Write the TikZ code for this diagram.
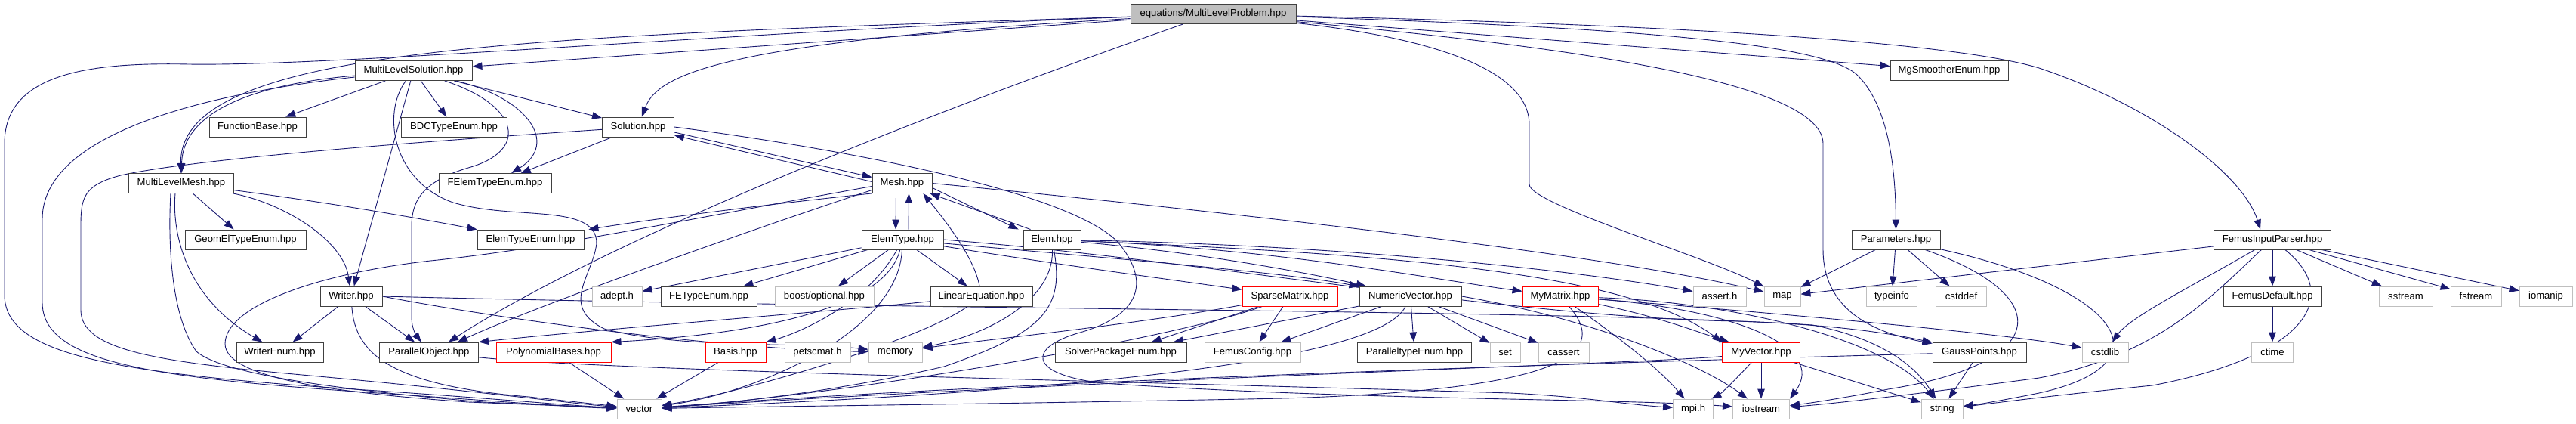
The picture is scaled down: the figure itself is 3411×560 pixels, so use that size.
\documentclass[tikz,border=0pt]{standalone}
\usepackage{fontspec}
\setmainfont{Liberation Sans}
\usetikzlibrary{arrows.meta,calc}
\definecolor{edgec}{HTML}{191970}
\definecolor{boxg}{HTML}{BFBFBF}
\definecolor{boxk}{HTML}{404040}
\pgfdeclarelayer{edges}
\pgfsetlayers{edges,main}
\tikzset{
 base/.style={rectangle, line width=0.9pt, minimum height=26pt, inner sep=0pt, font=\fontsize{13.1pt}{15pt}\selectfont, text=black, fill=white},
 kb/.style={base, draw=boxk},
 gb/.style={base, draw=boxg},
 rb/.style={base, draw=red},
 e/.style={draw=edgec, line width=0.9pt, -{Triangle[length=13pt,width=9.5pt]}},
}
\begin{document}
\begin{tikzpicture}[x=1pt,y=-1pt]
\useasboundingbox (0,0) rectangle (3411,560);
% row 0
\node[kb, fill=boxg, minimum width=219pt] (mlp) at (1606.5,18.5) {equations/MultiLevelProblem.hpp};
% row 1
\node[kb, minimum width=155pt] (mls) at (547.5,93.5) {MultiLevelSolution.hpp};
\node[kb, minimum width=156pt] (mgs) at (2581,93.5) {MgSmootherEnum.hpp};
% row 2
\node[kb, minimum width=128pt] (fb) at (341,168) {FunctionBase.hpp};
\node[kb, minimum width=140pt] (bdc) at (601,168) {BDCTypeEnum.hpp};
\node[kb, minimum width=95pt] (sol) at (845,168) {Solution.hpp};
% row 3
\node[kb, minimum width=139pt] (mlm) at (240,242.5) {MultiLevelMesh.hpp};
\node[kb, minimum width=149pt] (fet) at (655.5,242.5) {FElemTypeEnum.hpp};
\node[kb, minimum width=79pt] (mesh) at (1194.5,242.5) {Mesh.hpp};
% row 4
\node[kb, minimum width=160pt] (geom) at (325,317) {GeomElTypeEnum.hpp};
\node[kb, minimum width=141pt] (ete) at (702.5,317) {ElemTypeEnum.hpp};
\node[kb, minimum width=108pt] (etype) at (1195,317) {ElemType.hpp};
\node[kb, minimum width=76pt] (elem) at (1393,317) {Elem.hpp};
\node[kb, minimum width=117pt] (par) at (2510.5,317) {Parameters.hpp};
\node[kb, minimum width=155pt] (fip) at (3009,317) {FemusInputParser.hpp};
% row 5
\node[kb, minimum width=82pt] (wr) at (465,392) {Writer.hpp};
\node[gb, minimum width=66pt] (adept) at (817,392) {adept.h};
\node[kb, minimum width=127pt] (fety) at (938.5,392) {FETypeEnum.hpp};
\node[gb, minimum width=131pt] (boost) at (1091.5,392) {boost/optional.hpp};
\node[kb, minimum width=135pt] (leq) at (1299.5,392) {LinearEquation.hpp};
\node[rb, minimum width=126pt] (spm) at (1708,392) {SparseMatrix.hpp};
\node[kb, minimum width=135pt] (nv) at (1867.5,392) {NumericVector.hpp};
\node[rb, minimum width=100pt] (mym) at (2066,392) {MyMatrix.hpp};
\node[gb, minimum width=70pt] (assert) at (2277,392) {assert.h};
\node[gb, minimum width=48pt] (map) at (2360,392) {map};
\node[gb, minimum width=67pt] (tinfo) at (2505,392) {typeinfo};
\node[gb, minimum width=67pt] (cstddef) at (2597,392) {cstddef};
\node[kb, minimum width=130pt] (fdef) at (3009,392) {FemusDefault.hpp};
\node[gb, minimum width=71pt] (sstream) at (3185.5,392) {sstream};
\node[gb, minimum width=67pt] (fstream) at (3278.5,392) {fstream};
\node[gb, minimum width=70pt] (iomanip) at (3371,392) {iomanip};
% row 6
\node[kb, minimum width=115pt] (wenum) at (370.5,466) {WriterEnum.hpp};
\node[kb, minimum width=131pt] (po) at (568,466) {ParallelObject.hpp};
\node[rb, minimum width=152pt] (poly) at (733,466) {PolynomialBases.hpp};
\node[rb, minimum width=80pt] (basis) at (974,466) {Basis.hpp};
\node[gb, minimum width=87pt] (petsc) at (1082.5,466) {petscmat.h};
\node[gb, minimum width=71pt] (memory) at (1185.5,466) {memory};
\node[kb, minimum width=174pt] (spe) at (1484,466) {SolverPackageEnum.hpp};
\node[gb, minimum width=127pt] (fconf) at (1658.5,466) {FemusConfig.hpp};
\node[kb, minimum width=151pt] (pte) at (1873,466) {ParalleltypeEnum.hpp};
\node[gb, minimum width=40pt] (set) at (1993,466) {set};
\node[gb, minimum width=67pt] (cassert) at (2070.5,466) {cassert};
\node[rb, minimum width=103pt] (myv) at (2332,466) {MyVector.hpp};
\node[kb, minimum width=124pt] (gauss) at (2621,466) {GaussPoints.hpp};
\node[gb, minimum width=61pt] (cstdlib) at (2787.5,466) {cstdlib};
\node[gb, minimum width=55pt] (ctime) at (3009,466) {ctime};
% row 7
\node[gb, minimum width=59pt] (vector) at (846.5,541) {vector};
\node[gb, minimum width=53pt] (mpi) at (2242,541) {mpi.h};
\node[gb, minimum width=75pt] (iostream) at (2332,541) {iostream};
\node[gb, minimum width=55pt] (string) at (2571.5,541) {string};

\begin{pgfonlayer}{edges}
% MultiLevelProblem
\draw[e] (mlp) -- (mls);
\draw[e] (mlp) .. controls (700,48) and (236,60) .. (mlm);
\draw[e] (mlp) .. controls (950,55) and (870,100) .. (sol);
\draw[e] (mlp) .. controls (1000,40) and (450,88) .. (250,85) .. controls (110,82) and (6,100) .. (6,190) -- (6,390) .. controls (6,470) and (150,495) .. (500,517) .. controls (650,527) and (760,537) .. (vector);
\draw[e] ($(mlp.south)+(-40,0)$) .. controls (1200,160) and (800,320) .. ($(po.north east)+(-40,0)$);
\draw[e] (mlp) .. controls (1850,45) and (2025,80) .. (2025,165) -- (2025,244) .. controls (2025,270) and (2260,340) .. (map);
\draw[e] (mlp) -- (mgs);
\draw[e] (mlp) .. controls (2200,38) and (2420,60) .. (2460,100) .. controls (2500,140) and (2510,220) .. (par);
\draw[e] (mlp) .. controls (2000,55) and (2414,100) .. (2414,190) -- (2414,330) .. controls (2414,410) and (2480,440) .. (gauss);
\draw[e] (mlp) .. controls (2300,35) and (2600,60) .. (2700,90) .. controls (2850,140) and (2970,230) .. ($(fip.north)+(-16,0)$);
% MultiLevelSolution
\draw[e] (mls) .. controls (330,112) and (242,150) .. (mlm);
\draw[e] (mls) .. controls (260,125) and (56,180) .. (56,290) -- (56,400) .. controls (56,480) and (200,500) .. (500,520) .. controls (650,530) and (760,539) .. (vector);
\draw[e] (mls) -- (fb);
\draw[e] (mls) -- (bdc);
\draw[e] (mls) -- (sol);
\draw[e] (mls) .. controls (700,130) and (740,190) .. (fet);
\draw[e] (mls) -- (wr);
\draw[e] (mls) .. controls (690,140) and (700,200) .. (620,222) .. controls (560,240) and (545,265) .. (545,300) -- (545,420) .. controls (545,435) and (552,445) .. (po);
\draw[e] (mls) .. controls (505,150) and (520,240) .. (600,268) .. controls (680,292) and (790,268) .. (790,322) .. controls (785,365) and (740,405) .. (800,435) .. controls (900,462) and (1050,452) .. (memory);
% Solution
\draw[e] (sol) -- (fet);
\draw[e] (sol) .. controls (700,178) and (280,205) .. (160,232) .. controls (110,245) and (107,262) .. (107,300) -- (107,410) .. controls (107,462) and (200,478) .. (400,496) .. controls (600,514) and (760,534) .. (vector);
\draw[e] ($(sol.east)+(0,7)$) -- ($(mesh.west)+(0,-8)$);
\draw[e] (sol.east) .. controls (1100,195) and (1410,250) .. (1480,320) .. controls (1530,380) and (1500,420) .. (1430,440) .. controls (1360,460) and (1360,495) .. (1460,507) .. controls (1800,530) and (2150,527) .. (iostream);
% Mesh
\draw[e] ($(mesh.west)+(0,-2)$) -- ($(sol.east)+(0,11)$);
\draw[e] ($(mesh.south)+(-8,0)$) -- ($(etype.north)+(-9,0)$);
\draw[e] ($(mesh.east)+(0,6)$) -- ($(elem.north west)+(-6,0)$);
\draw[e] (mesh.south west) .. controls (1000,272) and (850,292) .. ($(ete.north east)+(6,0)$);
\draw[e] ($(mesh.west)+(0,9)$) .. controls (1050,285) and (720,400) .. ($(po.north east)+(-28,0)$);
\draw[e] ($(mesh.west)+(0,4)$) .. controls (900,292) and (720,330) .. (570,345) .. controls (420,362) and (298,405) .. (298,455) .. controls (298,505) and (480,522) .. (620,532) -- (vector);
\draw[e] (mesh.east) .. controls (1500,268) and (2100,330) .. (map);
% ElemType
\draw[e] ($(etype.north)+(8,0)$) -- ($(mesh.south)+(9,0)$);
\draw[e] (etype) -- (leq);
\draw[e] (etype) -- (adept);
\draw[e] (etype) -- (fety);
\draw[e] (etype) -- (boost);
\draw[e] (etype) .. controls (1400,350) and (1550,370) .. (spm);
\draw[e] (etype) .. controls (1170,420) and (950,445) .. (poly.north east);
\draw[e] (etype) .. controls (1150,400) and (1060,440) .. (basis.north east);
\draw[e] (etype) .. controls (1190,440) and (1000,520) .. (vector);
\draw[e] (etype) .. controls (1450,340) and (1700,360) .. (nv);
\draw[e] (etype.east) .. controls (1600,345) and (2000,420) .. (2300,425) .. controls (2450,430) and (2520,445) .. (gauss);
% Elem
\draw[e] ($(elem.north west)+(10,0)$) -- ($(mesh.south east)+(-3,0)$);
\draw[e] (elem) .. controls (1396,400) and (1300,445) .. (memory);
\draw[e] (elem) .. controls (1410,410) and (1380,440) .. (1250,485) .. controls (1100,520) and (950,535) .. (vector);
\draw[e] (elem) .. controls (1600,335) and (1750,365) .. (nv);
\draw[e] (elem) .. controls (1700,330) and (1900,370) .. (mym);
\draw[e] (elem) .. controls (1800,325) and (2100,360) .. (assert);
\draw[e] (elem) .. controls (1800,335) and (2150,355) .. (myv.north west);
% MultiLevelMesh
\draw[e] (mlm) -- (geom);
\draw[e] (mlm) .. controls (450,270) and (560,290) .. (ete);
\draw[e] (mlm) .. controls (380,270) and (455,320) .. (wr);
\draw[e] ($(mlm.south)+(-8,0)$) .. controls (228,300) and (240,390) .. (wenum);
\draw[e] ($(mlm.south)+(-14,0)$) .. controls (222,330) and (228,420) .. (260,465) .. controls (300,500) and (500,520) .. (640,532) -- (vector);
% Writer
\draw[e] (wr) -- (wenum);
\draw[e] (wr) -- ($(po.north west)+(47,0)$);
\draw[e] (wr) .. controls (470,470) and (520,510) .. (700,525) -- (vector);
\draw[e] (wr.east) .. controls (650,420) and (950,462) .. (memory);
\draw[e] (wr.east) .. controls (1200,410) and (2100,410) .. (2400,430) .. controls (2500,450) and (2540,490) .. (string);
% ParallelObject
\draw[e] (po) .. controls (800,490) and (1500,505) .. (2000,520) .. controls (2100,525) and (2150,535) .. (mpi);
% bases
\draw[e] (poly) -- (vector);
\draw[e] (basis) -- (vector);
% LinearEquation
\draw[e] (leq) .. controls (1290,340) and (1250,290) .. ($(mesh.south east)+(-12,0)$);
\draw[e] (leq) .. controls (1100,412) and (800,435) .. (po.north east);
\draw[e] (leq) .. controls (1220,450) and (980,520) .. (vector);
% SparseMatrix
\draw[e] (spm) -- (spe);
\draw[e] (spm) -- (fconf);
\draw[e] (spm) .. controls (1500,430) and (1300,450) .. (memory);
\draw[e] (spm) .. controls (1550,450) and (1100,525) .. (vector);
% NumericVector
\draw[e] (nv) -- (pte);
\draw[e] (nv) -- (set);
\draw[e] (nv) -- (cassert);
\draw[e] (nv) -- (fconf);
\draw[e] (nv) -- (spe);
\draw[e] (nv) .. controls (1830,470) and (1500,515) .. (vector);
\draw[e] (nv.east) .. controls (2100,420) and (2250,480) .. (iostream);
% MyMatrix
\draw[e] (mym) .. controls (2200,420) and (2250,440) .. (myv);
\draw[e] (mym) .. controls (2120,430) and (2190,480) .. (mpi);
\draw[e] (mym) .. controls (2300,410) and (2420,460) .. (iostream.north east);
\draw[e] (mym) .. controls (2300,400) and (2500,450) .. (string);
\draw[e] (mym) .. controls (2125,460) and (2100,515) .. (1700,527) .. controls (1300,535) and (1000,538) .. (vector);
\draw[e] (mym) .. controls (2300,410) and (2650,440) .. (cstdlib);
% MyVector
\draw[e] (myv) -- (iostream);
\draw[e] (myv) -- (string);
\draw[e] (myv) .. controls (2300,500) and (2280,520) .. (mpi);
\draw[e] (myv) .. controls (2200,480) and (1500,500) .. (vector);
% GaussPoints
\draw[e] (gauss) -- (string);
\draw[e] (gauss) .. controls (2300,475) and (1400,500) .. (vector);
% Parameters
\draw[e] (par) -- (map);
\draw[e] (par) -- (tinfo);
\draw[e] (par) -- (cstddef);
\draw[e] (par) .. controls (2720,390) and (2720,480) .. (2500,515) .. controls (2450,525) and (2400,533) .. (iostream);
\draw[e] (par) .. controls (2800,380) and (2880,480) .. (2700,520) .. controls (2650,530) and (2620,535) .. (string);
% FemusInputParser
\draw[e] (fip) -- (map);
\draw[e] (fip) .. controls (2900,380) and (2820,420) .. (cstdlib);
\draw[e] (fip) .. controls (2930,390) and (2860,470) .. (2700,500) .. controls (2550,520) and (2420,535) .. (iostream);
\draw[e] (fip) .. controls (3100,390) and (3060,470) .. (2850,510) .. controls (2700,525) and (2620,536) .. (string);
\draw[e] (fip) -- (fdef);
\draw[e] (fip) -- (sstream);
\draw[e] (fip) -- (fstream);
\draw[e] (fip) -- (iomanip);
\draw[e] (fdef) -- (ctime);
\end{pgfonlayer}
\end{tikzpicture}
\end{document}
